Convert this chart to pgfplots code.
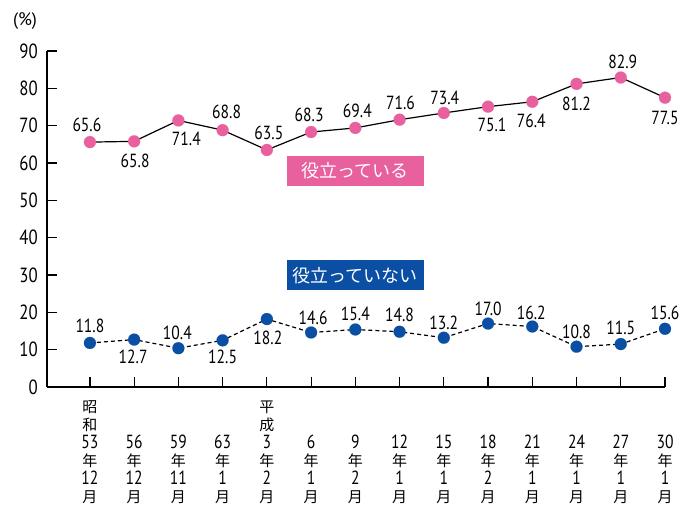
\documentclass[border=0pt]{standalone}
\usepackage{fontspec}
\usepackage{pgfplots}
\pgfplotsset{compat=1.18}
\usepackage{pgfplotstable}
\setmainfont{PT Sans}
\newfontfamily\numfont{PT Sans}[FakeStretch=0.82]
\newfontfamily\cjk{Noto Sans CJK JP}
\definecolor{mypink}{HTML}{E8609E}
\definecolor{myblue}{HTML}{0A4FA3}
\newcommand\D[1]{{\numfont\fontsize{19}{18}\selectfont #1}}
\newcommand\C[1]{{\cjk\fontsize{15}{18}\selectfont #1}}

\pgfplotstableread{
x y dx dy
0 65.6 -3 17
1 65.8 1 -19
2 71.4 8 -18
3 68.8 4 18
4 63.5 2 17
5 68.3 -2 17
6 69.4 2 17
7 71.6 1 17
8 73.4 1 15
9 75.1 4 -18
10 76.4 -1 -19
11 81.2 0 -20
12 82.9 2 16
13 77.5 0 -20
}\topdata

\pgfplotstableread{
x y dx dy
0 11.8 0 17
1 12.7 -1 -17
2 10.4 -1 15
3 12.5 0 -17
4 18.2 1 -19
5 14.6 2 15
6 15.4 0 16
7 14.8 0 17
8 13.2 0 15
9 17.0 0 15
10 16.2 -1 14
11 10.8 0 15
12 11.5 0 16
13 15.6 0 16
}\botdata

\begin{document}
\begin{tikzpicture}
\begin{axis}[
  scale only axis,
  width=618pt, height=336pt,
  at={(0,0)}, anchor=south west,
  xmin=-0.97, xmax=13,
  ymin=0, ymax=90,
  ytick={0,10,...,90},
  xtick={0,...,13},
  axis lines*=left,
  axis line style={line width=1.2pt},
  tick style={line width=1.2pt, black},
  tick align=inside,
  major tick length=10pt,
  /pgf/number format/assume math mode=true,
  yticklabel style={font=\numfont\fontsize{20.5}{20}\selectfont, inner sep=0pt, xshift=-9pt},
  xticklabel style={align=center, anchor=south, inner sep=0pt, yshift=-117pt,
    font=\fontsize{15}{18}\selectfont},
  xticklabels={
    {\C{昭}\\\C{和}\\\D{53}\\\C{年}\\\D{12}\\\C{月}},
    {\D{56}\\\C{年}\\\D{12}\\\C{月}},
    {\D{59}\\\C{年}\\\D{11}\\\C{月}},
    {\D{63}\\\C{年}\\\D{1}\\\C{月}},
    {\C{平}\\\C{成}\\\D{3}\\\C{年}\\\D{2}\\\C{月}},
    {\D{6}\\\C{年}\\\D{1}\\\C{月}},
    {\D{9}\\\C{年}\\\D{2}\\\C{月}},
    {\D{12}\\\C{年}\\\D{1}\\\C{月}},
    {\D{15}\\\C{年}\\\D{1}\\\C{月}},
    {\D{18}\\\C{年}\\\D{2}\\\C{月}},
    {\D{21}\\\C{年}\\\D{1}\\\C{月}},
    {\D{24}\\\C{年}\\\D{1}\\\C{月}},
    {\D{27}\\\C{年}\\\D{1}\\\C{月}},
    {\D{30}\\\C{年}\\\D{1}\\\C{月}}
  },
  clip=false,
  nodes near coords,
  visualization depends on={\thisrow{dx}\as\ldx},
  visualization depends on={\thisrow{dy}\as\ldy},
  nodes near coords style={anchor=center, xshift=\ldx pt, yshift=\ldy pt,
    font=\numfont\fontsize{19}{19}\selectfont, text=black,
    /pgf/number format/.cd, fixed, fixed zerofill, precision=1, assume math mode=true},
]
\addplot[black, line width=1.2pt, mark=*, mark size=6pt,
  mark options={solid, fill=mypink, draw=mypink, line width=0.1pt}]
  table[x=x, y=y] {\topdata};
\addplot[black, line width=1.2pt, dash pattern=on 4pt off 3pt, mark=*, mark size=6pt,
  mark options={solid, fill=myblue, draw=myblue, line width=0.1pt}]
  table[x=x, y=y] {\botdata};
\node[fill=mypink, text=white, minimum width=137pt, minimum height=30pt, inner sep=0pt,
  font=\cjk\fontsize{18}{18}\selectfont] at (axis cs:6,57.9) {役立っている};
\node[fill=myblue, text=white, minimum width=137pt, minimum height=30pt, inner sep=0pt,
  font=\cjk\fontsize{18}{18}\selectfont] at (axis cs:6,29.9) {役立っていない};
\node[font=\fontsize{18}{18}\selectfont] at (rel axis cs:0,0) [xshift=-22pt, yshift=366pt] {(\%)};
\end{axis}
\pgfresetboundingbox
\path[use as bounding box] (-47pt,-122pt) rectangle (645pt,387pt);
\end{tikzpicture}
\end{document}
